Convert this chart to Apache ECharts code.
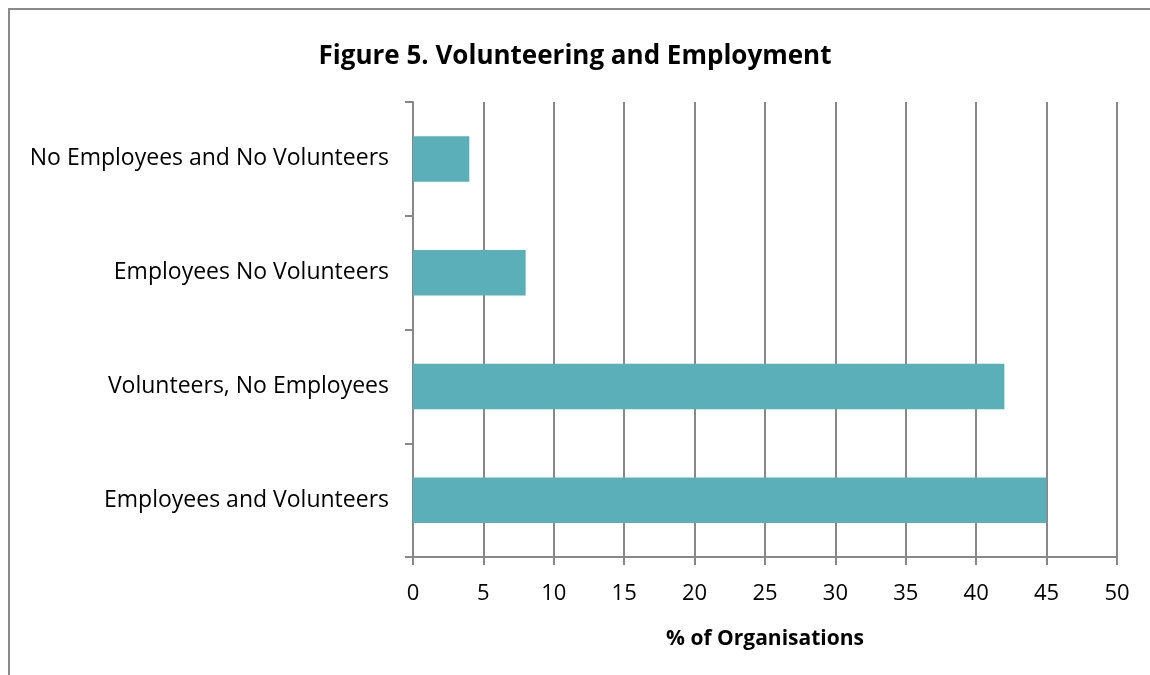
<!DOCTYPE html>
<html>
<head>
<meta charset="utf-8">
<script src="https://cdn.jsdelivr.net/npm/echarts@6/dist/echarts.min.js"></script>
<style>
  html, body { margin: 0; padding: 0; background: #fff; }
  #main {
    position: absolute;
    left: 0; top: 0;
    width: 1150px; height: 675px;
  }
  .frame {
    position: absolute;
    left: 8px; top: 8px;
    width: 1142px; height: 667px;
    border-top: 2px solid #8a8a8a;
    border-left: 2px solid #8a8a8a;
    box-sizing: border-box;
    pointer-events: none;
  }
</style>
</head>
<body>
<div id="main"></div>
<div class="frame"></div>
<script>
// categories bottom -> top
const categories = [
  'Employees and Volunteers',
  'Volunteers, No Employees',
  'Employees No Volunteers',
  'No Employees and No Volunteers'
];
const percentValues = [45, 42, 8, 4];

const chart = echarts.init(document.getElementById('main'), null, { renderer: 'canvas' });
const font = 'Open Sans, Lato, sans-serif';

const option = {
  animation: false,
  backgroundColor: 'transparent',
  textStyle: { fontFamily: font },
  title: {
    text: 'Figure 5. Volunteering and Employment',
    left: 'center',
    top: 39,
    textStyle: { fontFamily: font, fontSize: 26, fontWeight: 'bold', color: '#000' }
  },
  grid: { left: 413, right: 33, top: 102, bottom: 118, containLabel: false },
  xAxis: {
    type: 'value',
    min: 0,
    max: 50,
    interval: 5,
    name: '% of Organisations',
    nameLocation: 'middle',
    nameGap: 72,
    nameTextStyle: { fontFamily: font, fontSize: 21, fontWeight: 'bold', color: '#000' },
    axisLine: { show: true, lineStyle: { color: '#888', width: 2 } },
    axisTick: { show: true, length: 8, lineStyle: { color: '#888', width: 2 } },
    axisLabel: { fontFamily: font, fontSize: 22, color: '#000', margin: 26 },
    splitLine: { show: true, lineStyle: { color: '#888', width: 2 } }
  },
  yAxis: {
    type: 'category',
    data: categories,
    axisLine: { show: true, lineStyle: { color: '#888', width: 2 } },
    axisTick: { show: true, length: 8, lineStyle: { color: '#888', width: 2 } },
    axisLabel: { fontFamily: font, fontSize: 23, color: '#000', margin: 24 }
  },
  series: [{
    type: 'bar',
    data: percentValues,
    barWidth: '40%',
    itemStyle: { color: '#5aafb8' }
  }]
};

chart.setOption(option);
</script>
</body>
</html>
